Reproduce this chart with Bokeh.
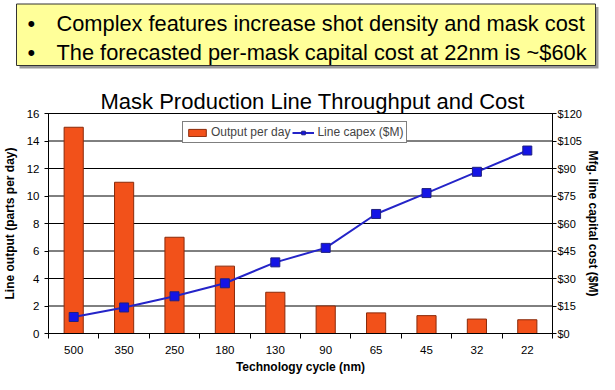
from bokeh.plotting import figure
from bokeh.models import (Range1d, LinearAxis, FixedTicker, NumeralTickFormatter,
                          Legend, LegendItem, ColumnDataSource)
from bokeh.core.properties import value
from bokeh.embed import file_html
from bokeh.resources import INLINE

# ---- data ----
bullets = ["Complex features increase shot density and mask cost",
           "The forecasted per-mask capital cost at 22nm is ~$60k"]
title_text = "Mask Production Line Throughput and Cost"
categories = ["500", "350", "250", "180", "130", "90", "65", "45", "32", "22"]
output_per_day = [15, 11, 7, 4.9, 3, 2, 1.5, 1.3, 1.05, 1.0]
line_capex = [9, 14.2, 20.3, 27.4, 38.8, 46.7, 65.2, 76.6, 88.2, 99.8]
left_ticks = [0, 2, 4, 6, 8, 10, 12, 14, 16]
right_ticks = [0, 15, 30, 45, 60, 75, 90, 105, 120]

FONT = "Liberation Sans"
W, H = 599, 374
# plot-area edges in figure pixels
FL, FR, FT, FB = 48, 552, 113, 333

n = len(categories)
ylo, yhi = left_ticks[0], left_ticks[-1]
clo, chi = right_ticks[0], right_ticks[-1]

# ranges chosen so that the data area lands on the pixel box above,
# while the whole canvas is the frame (room for the banner and title)
xpp = n / (FR - FL)
ypp = (yhi - ylo) / (FB - FT)
cpp = (chi - clo) / (FB - FT)
x_range = Range1d(0 - FL * xpp, n + (W - FR) * xpp)
y_range = Range1d(ylo - (H - FB) * ypp, yhi + FT * ypp)

p = figure(width=W, height=H, output_backend="svg", toolbar_location=None,
           title=None, x_axis_location=None, y_axis_location=None,
           x_range=x_range, y_range=y_range, min_border=0)
p.extra_y_ranges = {"cap": Range1d(clo - (H - FB) * cpp, chi + FT * cpp),
                    "px": Range1d(H, 0)}
p.extra_x_ranges = {"px": Range1d(0, W)}
p.outline_line_color = None
p.background_fill_color = "#ffffff"
p.border_fill_color = "#ffffff"
p.grid.visible = False

xs = [i + 0.5 for i in range(n)]
src = ColumnDataSource(dict(x=xs, out=output_per_day, cap=line_capex))

# ---- banner with bullets ----
p.quad(left=[19], right=[598], top=[6.5], bottom=[68], fill_color="#999999",
       line_color=None, x_range_name="px", y_range_name="px")
p.quad(left=[16], right=[595], top=[3.5], bottom=[65], fill_color="#ffff99",
       line_color="#333333", line_width=1, x_range_name="px", y_range_name="px")
ys = [23.0, 51.6]
p.text(x=[30.8] * len(bullets), y=ys, text=["\u2022"] * len(bullets),
       text_font=value(FONT), text_font_size="21.8px", text_align="center",
       text_baseline="alphabetic", text_color="#000000",
       x_range_name="px", y_range_name="px")
p.text(x=[56] * len(bullets), y=ys, text=bullets,
       text_font=value(FONT), text_font_size="21.8px", text_align="left",
       text_baseline="alphabetic", text_color="#000000",
       x_range_name="px", y_range_name="px")

# ---- chart title ----
p.text(x=[100], y=[100.5], text=[title_text], text_font=value(FONT),
       text_font_size="22px", text_align="left", text_baseline="alphabetic",
       text_color="#000000", x_range_name="px", y_range_name="px")

# ---- grid and plot-area outline ----
p.segment(x0=[0] * len(left_ticks), x1=[n] * len(left_ticks), y0=left_ticks,
          y1=left_ticks, line_color="#000000", line_width=1)
p.quad(left=[0], right=[n], bottom=[ylo], top=[yhi], fill_color=None,
       line_color="#000000", line_width=1)

# ---- data glyphs ----
bars = p.vbar(x="x", top="out", width=0.38, source=src, fill_color="#f2511a",
              line_color="#8a2a0a", line_width=1)
ln = p.line(x="x", y="cap", source=src, y_range_name="cap", line_color="#2424c8",
            line_width=2)
mk = p.scatter(x="x", y="cap", source=src, y_range_name="cap", marker="square",
               size=9, fill_color="#1414e6", line_color="#202080", line_width=1)

# ---- axes (fixed at the plot-area edges) ----
xaxis = LinearAxis(ticker=FixedTicker(ticks=xs, minor_ticks=list(range(n + 1))),
                   major_label_overrides={x: c for x, c in zip(xs, categories)},
                   axis_label="Technology cycle (nm)", fixed_location=ylo,
                   bounds=(0, n))
xaxis.major_tick_out = 0
xaxis.major_tick_in = 0
xaxis.minor_tick_out = 5
xaxis.minor_tick_in = 0
p.add_layout(xaxis, "below")

yaxis = LinearAxis(ticker=FixedTicker(ticks=left_ticks, minor_ticks=[]),
                   axis_label="Line output (parts per day)", fixed_location=0,
                   bounds=(ylo, yhi))
yaxis.major_tick_out = 4
yaxis.major_tick_in = 0
p.add_layout(yaxis, "left")

raxis = LinearAxis(y_range_name="cap", ticker=FixedTicker(ticks=right_ticks, minor_ticks=[]),
                   formatter=NumeralTickFormatter(format="$0"),
                   axis_label="Mfg. line capital cost ($M)", fixed_location=n,
                   bounds=(clo, chi))
raxis.major_tick_out = 4
raxis.major_tick_in = 0
p.add_layout(raxis, "right")

for ax in (xaxis, yaxis, raxis):
    ax.axis_line_color = "#000000"
    ax.major_tick_line_color = "#000000"
    ax.minor_tick_line_color = "#000000"
    ax.major_label_text_font = FONT
    ax.major_label_text_font_size = "11.5px"
    ax.major_label_text_color = "#000000"
    ax.axis_label_text_font = FONT
    ax.axis_label_text_font_size = "12px"
    ax.axis_label_text_font_style = "bold"
    ax.axis_label_text_color = "#000000"
raxis.major_label_text_font_size = "11px"
yaxis.major_label_standoff = 5
yaxis.axis_label_standoff = 7
raxis.major_label_standoff = 1
raxis.axis_label_standoff = 1
xaxis.major_label_standoff = 7
xaxis.axis_label_standoff = 3

legend = Legend(items=[LegendItem(label="Output per day", renderers=[bars]),
                       LegendItem(label="Line capex ($M)", renderers=[ln, mk])],
                orientation="horizontal", location=(182, 231),
                label_text_font=FONT, label_text_font_size="12px",
                border_line_color="#000000", border_line_width=1,
                background_fill_color="#ffffff", background_fill_alpha=1,
                glyph_width=22, glyph_height=9, padding=3, spacing=2,
                label_standoff=3, margin=0, label_height=14)
p.add_layout(legend, "center")

open("out.html", "w").write(file_html(p, INLINE))
